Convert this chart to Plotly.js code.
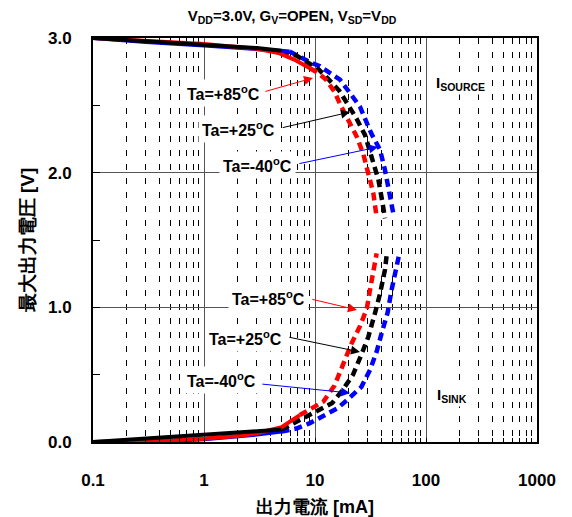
<!DOCTYPE html>
<html><head><meta charset="utf-8">
<script src="https://cdn.plot.ly/plotly-3.0.1.min.js"></script>
<style>body{margin:0;background:#fff}#c{width:572px;height:517px}</style>
</head><body><div id="c"></div>
<script>
// ISOURCE curves (upper)
const srcBlackSolidX = [0.1, 0.3, 1, 3, 5];
const srcBlackSolidY = [3.0, 2.975, 2.95, 2.925, 2.905];
const srcBlackDashX = [5, 6.8, 8.5, 10.7, 13, 16.5, 20, 23.7, 28.2, 33.5, 37.2, 40.7, 42.7];
const srcBlackDashY = [2.905, 2.87, 2.82, 2.77, 2.70, 2.61, 2.50, 2.40, 2.28, 2.09, 1.95, 1.77, 1.66];
const srcRedSolidX = [0.1, 0.3, 1, 3, 4.8, 6.5, 8, 9];
const srcRedSolidY = [3.0, 2.98, 2.955, 2.92, 2.886, 2.84, 2.80, 2.775];
const srcRedDashX = [9, 10.7, 12.6, 15, 16.8, 20, 23.7, 27.2, 30.2, 33.5, 35.9];
const srcRedDashY = [2.775, 2.74, 2.69, 2.60, 2.51, 2.38, 2.27, 2.14, 2.0, 1.85, 1.67];
const srcBlueSolidX = [0.1, 0.3, 1, 3, 5.9];
const srcBlueSolidY = [3.0, 2.97, 2.945, 2.92, 2.90];
const srcBlueDashX = [5.9, 9, 11.1, 16.8, 20.7, 25.4, 32.2, 38.5, 42.7, 47, 51.5];
const srcBlueDashY = [2.90, 2.82, 2.79, 2.69, 2.59, 2.49, 2.29, 2.17, 2.02, 1.85, 1.67];
// ISINK curves (lower)
const snkBlackSolidX = [0.1, 0.3, 1, 3, 5];
const snkBlackSolidY = [0.0, 0.026, 0.053, 0.079, 0.092];
const snkBlackDashX = [5, 6.4, 8.4, 10.5, 14.3, 17.9, 22, 26.2, 30.2, 34.8, 38.5, 42.7, 44.4];
const snkBlackDashY = [0.092, 0.14, 0.19, 0.23, 0.29, 0.39, 0.50, 0.65, 0.78, 0.96, 1.10, 1.28, 1.40];
const snkRedSolidX = [0.1, 0.5, 1, 2, 3, 5, 7.3];
const snkRedSolidY = [0.0, 0.012, 0.025, 0.045, 0.065, 0.11, 0.20];
const snkRedDashX = [7.3, 9, 11.9, 15, 17.9, 21.3, 25.4, 29.3, 31.3, 33.5, 35.9];
const snkRedDashY = [0.20, 0.24, 0.30, 0.42, 0.585, 0.73, 0.86, 0.99, 1.13, 1.28, 1.40];
const snkBlueSolidX = [0.1, 0.5, 1, 2, 3, 5];
const snkBlueSolidY = [0.0, 0.008, 0.02, 0.04, 0.055, 0.077];
const snkBlueDashX = [5, 6.8, 9, 11.7, 15.9, 20, 26.2, 31.3, 35.9, 39.9, 45.1, 49, 54.6, 57.6];
const snkBlueDashY = [0.077, 0.10, 0.14, 0.19, 0.25, 0.32, 0.41, 0.535, 0.67, 0.81, 0.96, 1.13, 1.30, 1.40];

const xTickVals = [0.1, 1, 10, 100, 1000];
const xTickText = ['0.1', '1', '10', '100', '1000'];
const yTickVals = [0, 1, 2, 3];
const yTickText = ['0.0', '1.0', '2.0', '3.0'];
const labels = ['Ta=+85<sup>o</sup>C', 'Ta=+25<sup>o</sup>C', 'Ta=-40<sup>o</sup>C'];
const colors = ['#ff0000', '#000000', '#0000ff'];

const DASH = '8px,5px';
function tr(x, y, c, dash, w) {
  return {x: x, y: y, type: 'scatter', mode: 'lines', hoverinfo: 'skip',
    line: {color: c, width: w, dash: dash}};
}
const data = [
  tr(srcBlueDashX, srcBlueDashY, colors[2], DASH, 4.5),
  tr(srcBlackDashX, srcBlackDashY, colors[1], DASH, 4.5),
  tr(srcRedDashX, srcRedDashY, colors[0], DASH, 4.5),
  tr(srcBlueSolidX, srcBlueSolidY, colors[2], 'solid', 4),
  tr(srcRedSolidX, srcRedSolidY, colors[0], 'solid', 4),
  tr(srcBlackSolidX, srcBlackSolidY, colors[1], 'solid', 4),
  tr(snkBlueDashX, snkBlueDashY, colors[2], DASH, 4.5),
  tr(snkBlackDashX, snkBlackDashY, colors[1], DASH, 4.5),
  tr(snkRedDashX, snkRedDashY, colors[0], DASH, 4.5),
  tr(snkBlueSolidX, snkBlueSolidY, colors[2], 'solid', 4),
  tr(snkRedSolidX, snkRedSolidY, colors[0], 'solid', 4),
  tr(snkBlackSolidX, snkBlackSolidY, colors[1], 'solid', 4)
];

const F = 'Liberation Sans, Arial, sans-serif';
const labFont = {family: F, size: 16, color: '#000', weight: 'bold'};
function lab(text, lx, y) {
  return {x: lx, y: y, xref: 'x', yref: 'y', text: text, showarrow: false,
    font: labFont, bgcolor: '#ffffff', borderpad: 3, xanchor: 'center', yanchor: 'middle'};
}
function arr(lx, y, ax, ay, c) {
  return {x: lx, y: y, ax: ax, ay: ay, xref: 'x', yref: 'y', axref: 'x', ayref: 'y',
    text: '', showarrow: true, arrowhead: 2, arrowsize: 1.8, arrowwidth: 1, arrowcolor: c, standoff: 0};
}
const annotations = [
  lab(labels[0], 0.180, 2.592), lab(labels[1], 0.315, 2.324), lab(labels[2], 0.486, 2.057),
  lab(labels[0], 0.577, 1.070), lab(labels[1], 0.378, 0.773), lab(labels[2], 0.162, 0.461),
  arr(0.982, 2.703, 0.540, 2.60, colors[0]),
  arr(1.315, 2.45, 0.695, 2.332, colors[1]),
  arr(1.568, 2.19, 0.845, 2.065, colors[2]),
  arr(1.378, 0.981, 0.962, 1.062, colors[0]),
  arr(1.405, 0.669, 0.755, 0.780, colors[1]),
  arr(1.315, 0.364, 0.512, 0.431, colors[2]),
  {x: 2.315, y: 2.66, xref: 'x', yref: 'y', text: 'I<sub>SOURCE</sub>', showarrow: false,
   font: {family: F, size: 15, color: '#000', weight: 'bold'}, bgcolor: '#fff'},
  {x: 2.234, y: 0.342, xref: 'x', yref: 'y', text: 'I<sub>SINK</sub>', showarrow: false,
   font: {family: F, size: 15, color: '#000', weight: 'bold'}, bgcolor: '#fff'}
];

const layout = {
  width: 572, height: 517,
  margin: {l: 93, r: 35, t: 38, b: 75},
  paper_bgcolor: '#fff', plot_bgcolor: '#fff',
  showlegend: false,
  title: {text: 'V<sub>DD</sub>=3.0V, G<sub>V</sub>=OPEN, V<sub>SD</sub>=V<sub>DD</sub>',
    font: {family: F, size: 15, color: '#000', weight: 'bold'},
    xref: 'container', yref: 'container', x: 292/572, y: 1 - 16/517, xanchor: 'center', yanchor: 'middle'},
  xaxis: {type: 'log', range: [-1, 3], tickvals: xTickVals, ticktext: xTickText,
    showgrid: true, gridcolor: '#555', gridwidth: 1,
    showline: true, linecolor: '#000', linewidth: 2, mirror: true,
    ticks: 'inside', ticklen: 0, ticklabelstandoff: 22,
    tickfont: {family: F, size: 17, color: '#000', weight: 'bold'},
    minor: {dtick: 'D1', showgrid: true, gridcolor: '#000', gridwidth: 1, griddash: '6px,8px',
      ticks: 'inside', ticklen: 4, tickcolor: '#000'},
    title: {text: '出力電流 [mA]', standoff: 18,
      font: {family: F, size: 18, color: '#000', weight: 'bold'}},
    zeroline: false},
  yaxis: {range: [0, 3], tickvals: yTickVals, ticktext: yTickText,
    showgrid: true, gridcolor: '#555', gridwidth: 1,
    showline: true, linecolor: '#000', linewidth: 2, mirror: true,
    ticks: 'inside', ticklen: 7, tickcolor: '#000', ticklabelstandoff: 16,
    tickfont: {family: F, size: 17, color: '#000', weight: 'bold'},
    minor: {dtick: 0.5, ticks: 'inside', ticklen: 7, tickcolor: '#000', showgrid: false},
    title: {text: '最大出力電圧 [V]', standoff: 8,
      font: {family: F, size: 19, color: '#000', weight: 'bold'}},
    zeroline: false},
  annotations: annotations
};
Plotly.newPlot('c', data, layout, {displayModeBar: false, staticPlot: true});
</script></body></html>
